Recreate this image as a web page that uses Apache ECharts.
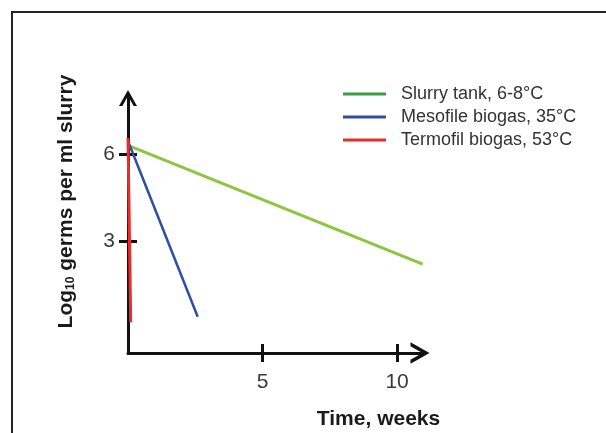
<!DOCTYPE html>
<html>
<head>
<meta charset="utf-8">
<script src="https://cdn.jsdelivr.net/npm/echarts@6/dist/echarts.min.js"></script>
<style>html,body{margin:0;padding:0;background:#fff}#c{width:606px;height:433px}</style>
</head>
<body>
<div id="c"></div>
<script>
// Data
const seriesNames = ['Slurry tank, 6-8°C', 'Mesofile biogas, 35°C', 'Termofil biogas, 53°C'];
const slurryTime = [0, 10.95];
const slurryLog = [6.3, 2.2];
const mesoTime = [0.01, 2.59];
const mesoLog = [6.42, 0.39];
const termoTime = [0, 0.1];
const termoLog = [6.55, 0.2];
const xTicks = [5, 10];
const yTicks = [3, 6];
const xName = 'Time, weeks';

const pairs = (xs, ys) => xs.map((x, i) => [x, ys[i]]);
const font = 'Liberation Sans, Arial, sans-serif';
const chevron = 'path://M0,16 L9,0 L18,16 L14.6,16 L9,6 L3.4,16 Z';
const legendBar = 'path://M0,0 L43,0 L43,3 L0,3 Z';

const chart = echarts.init(document.getElementById('c'), null, {renderer: 'canvas'});
const xRange = {min: 0, max: 11};
const yRange = {min: -0.862, max: 8};
const axisLine = {show: true, onZero: false, lineStyle: {color: '#111', width: 3}};

chart.setOption({
  animation: false,
  backgroundColor: '#fff',
  grid: {left: 128, right: 182, top: 96, bottom: 80, containLabel: false, outerBoundsMode: 'none'},
  graphic: [{
    type: 'rect', shape: {x: 12, y: 12, width: 640, height: 460},
    style: {fill: 'none', stroke: '#222', lineWidth: 2}, silent: true, z: 100
  }],
  legend: {
    orient: 'vertical', left: 343, top: 85, padding: 0, itemWidth: 43, itemHeight: 3, itemGap: 5,
    icon: legendBar,
    data: [
      {name: seriesNames[0], itemStyle: {color: '#3f9b45'}},
      {name: seriesNames[1], itemStyle: {color: '#2e4ea3'}},
      {name: seriesNames[2], itemStyle: {color: '#ee2a2a'}}
    ],
    textStyle: {fontFamily: font, fontSize: 18, color: '#333', padding: [0, 0, 0, 10]}
  },
  xAxis: [{
    type: 'value', ...xRange, position: 'bottom',
    axisLine: {...axisLine, symbol: ['none', chevron], symbolSize: [22, 19], symbolOffset: [0, -4]},
    splitLine: {show: false},
    axisTick: {show: true, customValues: xTicks, length: 9, lineStyle: {color: '#111', width: 3}},
    axisLabel: {show: true, customValues: xTicks, margin: 19, fontFamily: font, fontSize: 21, color: '#3a3a3a'},
    name: xName, nameLocation: 'middle', nameGap: 56,
    nameTextStyle: {fontFamily: font, fontSize: 21, fontWeight: 'bold', color: '#1a1a1a', padding: [0, 0, 0, 205]}
  }, {
    type: 'value', ...xRange, position: 'bottom',
    axisLine: {show: false, onZero: false}, splitLine: {show: false},
    axisTick: {show: true, inside: true, customValues: xTicks, length: 9, lineStyle: {color: '#111', width: 3}},
    axisLabel: {show: false}
  }],
  yAxis: [{
    type: 'value', ...yRange, position: 'left',
    axisLine: {...axisLine, symbol: ['none', chevron], symbolSize: [18, 16], symbolOffset: [0, -2]},
    splitLine: {show: false},
    axisTick: {show: true, customValues: yTicks, length: 9, lineStyle: {color: '#111', width: 3}},
    axisLabel: {show: true, customValues: yTicks, margin: 13, fontFamily: font, fontSize: 21, color: '#3a3a3a'},
    name: '{a|Log}{s|10}{a| germs per ml slurry}', nameLocation: 'middle', nameRotate: 90, nameGap: 51,
    nameTextStyle: {
      padding: [0, 0, 0, 46],
      rich: {
        a: {fontFamily: font, fontSize: 21, fontWeight: 'bold', color: '#1a1a1a'},
        s: {fontFamily: font, fontSize: 12, fontWeight: 'bold', color: '#1a1a1a', verticalAlign: 'bottom', padding: [6, 0, 0, 0]}
      }
    }
  }, {
    type: 'value', ...yRange, position: 'left',
    axisLine: {show: false, onZero: false}, splitLine: {show: false},
    axisTick: {show: true, inside: true, customValues: yTicks, length: 9, lineStyle: {color: '#111', width: 3}},
    axisLabel: {show: false}
  }],
  series: [
    {name: seriesNames[0], type: 'line', data: pairs(slurryTime, slurryLog), symbol: 'none', color: '#8cc63f', lineStyle: {width: 3, color: '#8cc63f'}},
    {name: seriesNames[1], type: 'line', data: pairs(mesoTime, mesoLog), symbol: 'none', color: '#2e4ea3', lineStyle: {width: 2.5, color: '#2e4ea3'}},
    {name: seriesNames[2], type: 'line', data: pairs(termoTime, termoLog), symbol: 'none', color: '#ee2a2a', lineStyle: {width: 3, color: '#ee2a2a'}}
  ]
});
</script>
</body>
</html>
